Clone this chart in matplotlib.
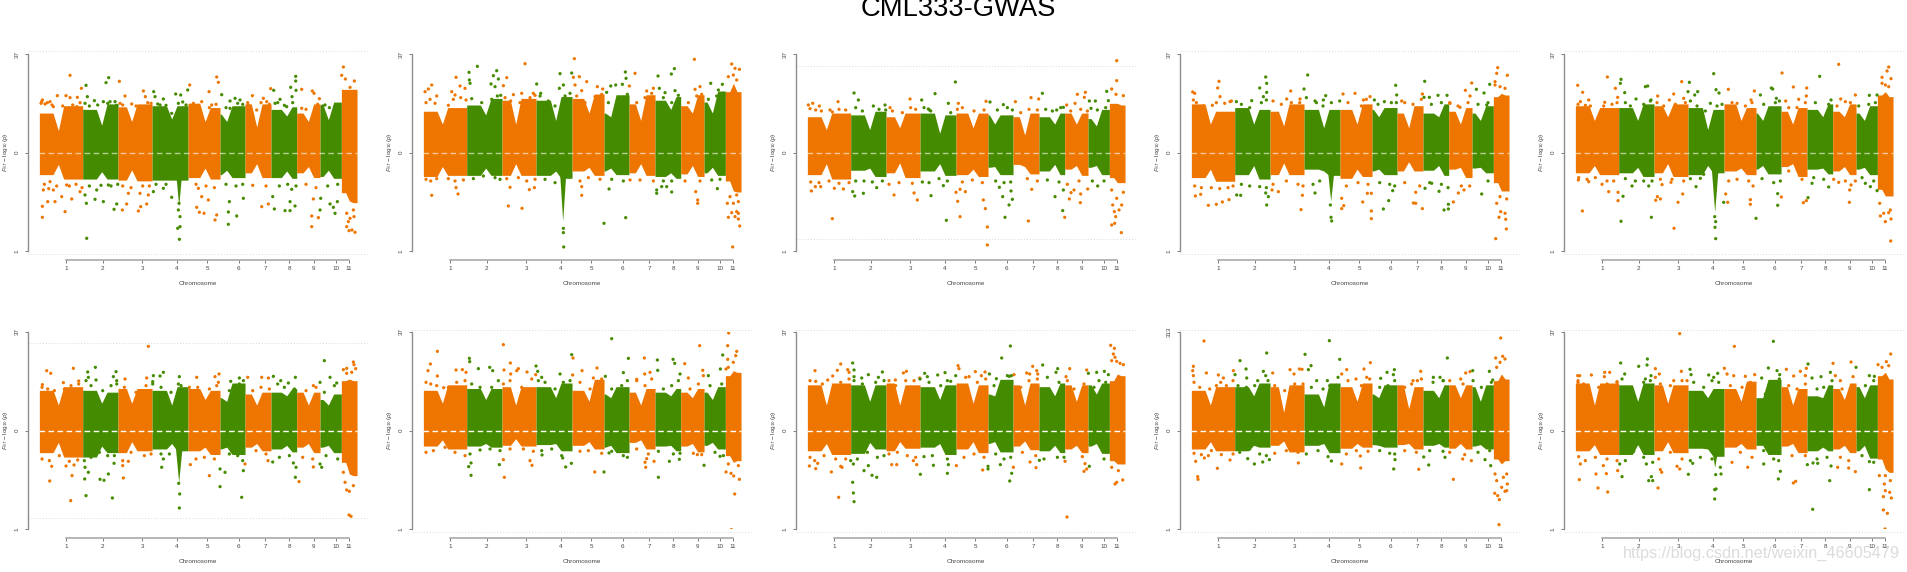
import numpy as np
import matplotlib
matplotlib.use("Agg")
import matplotlib.pyplot as plt

plt.rcParams['font.family'] = ['Liberation Sans', 'DejaVu Sans']
plt.rcParams['mathtext.fontset'] = 'custom'
plt.rcParams['mathtext.rm'] = 'Liberation Sans'
plt.rcParams['mathtext.it'] = 'Liberation Sans:italic'

# genome position of chromosome edges, centromere dips and axis ticks
chrom_edges = [0, 130, 236, 338, 446, 542, 617, 695, 772, 842, 906, 953]
chrom_dips = [57, 187, 277, 397, 497, 562, 652, 742, 807, 867, 930]
chrom_ticks = [80, 190, 309, 412, 504, 598, 677, 750, 823, 890, 928]
chrom_names = ['1', '2', '3', '4', '5', '6', '7', '8', '9', '10', '11']

# top / bottom of the dense band: (start, dip, end) for every chromosome
upper_1 = [108,60,128, 118,75,133, 125,85,133, 128,92,128, 135,85,123, 105,85,128, 133,70,133, 118,100,125, 108,85,133, 130,90,138, 190,190,190]
upper_2 = [113,78,123, 130,103,148, 143,78,148, 143,88,153, 148,108,160, 108,98,158, 133,88,158, 143,118,153, 128,108,158, 138,108,168, 183,208,183]
upper_3 = [98,63,108, 103,63,113, 98,68,108, 108,53,103, 108,68,108, 103,78,103, 98,48,108, 98,78,108, 108,78,108, 93,73,118, 148,148,143]
upper_4 = [133,78,113, 123,78,118, 113,73,133, 118,68,118, 118,78,133, 118,98,123, 108,68,128, 108,98,133, 113,78,123, 108,88,128, 168,178,173]
upper_5 = [128,88,123, 123,88,133, 128,98,133, 123,63,118, 133,88,123, 108,88,128, 113,78,123, 118,98,133, 113,98,133, 108,88,128, 173,183,168]
upper_6 = [110,70,120, 110,75,105, 115,75,115, 110,70,120, 115,85,110, 90,80,130, 100,70,105, 105,95,115, 105,70,105, 85,70,100, 150,155,150]
upper_7 = [110,75,125, 115,85,115, 120,70,120, 120,90,130, 110,80,140, 100,90,120, 105,70,115, 105,95,115, 105,90,115, 105,85,120, 165,180,175]
upper_8 = [125,70,130, 125,80,125, 130,70,125, 120,85,125, 130,75,125, 100,95,140, 125,70,130, 120,95,130, 125,80,125, 125,100,130, 150,170,165]
upper_9 = [110,70,120, 120,95,130, 120,50,125, 100,65,130, 120,80,130, 100,90,125, 125,60,120, 110,90,125, 125,90,125, 120,80,125, 150,170,155]
upper_10 = [130,70,130, 125,80,130, 125,75,125, 110,90,115, 115,80,135, 90,90,140, 120,70,115, 95,90,125, 115,85,130, 120,90,125, 165,175,155]

lower_1 = [-60,-32,-72, -72,-52,-72, -75,-47,-77, -75,-75,-75, -68,-42,-72, -60,-48,-68, -55,-30,-68, -68,-50,-70, -55,-38,-68, -65,-48,-70, -120,-145,-150]
lower_2 = [-65,-38,-62, -62,-42,-62, -62,-30,-62, -62,-50,-70, -50,-40,-62, -50,-42,-60, -55,-30,-62, -65,-55,-70, -58,-35,-65, -55,-40,-62, -85,-115,-118]
lower_3 = [-60,-30,-72, -48,-42,-65, -55,-28,-68, -50,-30,-62, -60,-45,-65, -40,-38,-60, -32,-38,-58, -50,-32,-60, -45,-35,-62, -40,-35,-60, -75,-90,-90]
lower_4 = [-68,-45,-78, -60,-35,-72, -60,-28,-60, -45,-50,-62, -70,-45,-65, -50,-45,-60, -50,-25,-50, -48,-35,-62, -45,-40,-68, -42,-40,-55, -90,-115,-115]
lower_5 = [-55,-35,-60, -55,-40,-65, -55,-30,-65, -60,-35,-55, -50,-42,-60, -45,-35,-58, -38,-30,-65, -45,-42,-58, -50,-38,-60, -45,-40,-60, -110,-130,-130]
lower_6 = [-60,-32,-72, -72,-42,-60, -60,-30,-55, -50,-35,-55, -55,-45,-65, -50,-45,-65, -45,-35,-55, -50,-40,-58, -45,-35,-60, -45,-40,-60, -95,-130,-135]
lower_7 = [-42,-25,-50, -42,-35,-45, -40,-22,-42, -38,-35,-55, -40,-30,-50, -45,-40,-60, -32,-25,-50, -42,-40,-55, -42,-35,-58, -40,-32,-50, -75,-95,-90]
lower_8 = [-55,-35,-65, -62,-32,-50, -55,-30,-48, -45,-35,-65, -50,-30,-60, -35,-30,-58, -42,-28,-52, -55,-40,-60, -50,-40,-60, -42,-35,-62, -90,-100,-100]
lower_9 = [-50,-30,-55, -55,-40,-45, -40,-28,-58, -40,-35,-60, -48,-35,-45, -38,-40,-45, -38,-35,-50, -40,-35,-45, -48,-35,-50, -42,-38,-50, -85,-100,-90]
lower_10 = [-55,-38,-65, -65,-38,-65, -55,-30,-60, -48,-50,-70, -45,-35,-50, -40,-40,-65, -42,-35,-60, -55,-45,-55, -50,-40,-60, -55,-40,-75, -85,-115,-125]

# depth of the peak on chromosome 4, and where the significance line sits
peak_depth = [160, 205, 0, 145, 178, 155, 0, 0, 0, 110]
threshold = [304, None, 260, 304, 304, 262, 303, 303, 303, 303]

# single points that stand clear of the band: (position, value)
hits_1 = [(92,232),(9,158),(54,171),(80,171),(92,165),(114,166),(126,193),(140,202),(144,168),(200,210),(208,225),(240,214),(257,170),(312,185),(318,168),(343,183),(347,168),(372,161),(409,176),(424,173),(445,188),(451,203),(509,183),(532,227),(537,211),(547,174),(572,155),(587,163),(639,171),(672,163),(694,192),(703,187),(722,160),(754,196),(769,229),(769,215),(770,187),(758,168),(787,190),(819,185),(824,178),(840,162),(907,232),(912,257),(918,221),(945,215),(932,196),
    (7,153),(17,146),(32,153),(42,138),(87,133),(112,138),(137,148),(165,156),(192,153),(212,153),(227,153),(242,148),(277,146),(307,133),(362,143),(397,118),(417,148),(462,148),(487,153),(517,143),(572,133),(602,158),(627,143),(652,128),(682,153),(707,148),(742,138),(787,133),(827,133),(857,143),(887,138),
    (9,-161),(9,-194),(25,-147),(12,-112),(47,-147),(42,-112),(77,-177),(67,-132),(97,-139),(122,-117),(32,-87),(82,-97),(142,-257),(141,-152),(167,-140),(192,-147),(224,-170),(232,-154),(172,-112),(207,-97),(137,-127),(249,-172),(262,-154),(297,-175),(304,-162),(322,-154),(267,-122),(302,-122),(327,-127),(372,-107),(342,-117),(397,-134),(472,-164),(480,-179),(494,-182),(487,-132),(477,-107),(507,-142),(532,-187),(527,-202),(567,-178),(567,-215),(592,-190),(570,-147),(612,-137),(667,-162),(687,-154),(705,-169),(700,-132),(737,-174),(752,-174),(767,-160),(752,-147),(757,-110),(817,-190),(817,-222),(837,-195),(842,-172),(844,-137),(822,-139),(872,-154),(887,-182),(882,-164),(894,-147),
    (420,-260),(415,-227),(422,-222),(422,-192),(417,-172),(419,-152),(922,-222),(929,-234),(947,-239),(932,-197),(944,-192),(922,-182),(938,-232),(927,-207),(942,-172)]
hits_2 = [(137,241),(162,259),(138,218),(140,208),(98,226),(25,203),(5,183),(15,191),(40,170),(85,183),(110,200),(125,193),(95,173),(203,206),(210,231),(220,246),(225,221),(215,198),(240,201),(250,225),(305,267),(295,178),(340,206),(330,178),(270,174),(352,178),(410,237),(420,203),(408,193),(445,239),(453,282),(450,226),(468,228),(490,213),(455,203),(475,186),(522,198),(538,191),(550,181),(562,200),(577,203),(597,205),(606,242),(608,223),(618,200),(635,238),(670,185),(690,193),(704,230),(708,193),(725,180),(744,236),(753,252),(755,186),(813,280),(815,190),(830,198),(862,208),(885,188),(897,205),(925,266),(935,253),(948,250),(915,228),(930,233),(940,218),
    (25,-128),(98,-105),(104,-124),(255,-160),(296,-167),(260,-104),(318,-111),(333,-105),(420,-227),(420,-240),(421,-283),(475,-128),(475,-102),(542,-212),(557,-109),(607,-195),(700,-112),(700,-122),(715,-102),(730,-102),(745,-118),(817,-117),(823,-142),(823,-152),(882,-108),(912,-152),(915,-194),(945,-199),(949,-220),(928,-283),(925,-180),(940,-177),(930,-152),(945,-147),(920,-132),(940,-127),(935,-192),(945,-182)]
hits_3 = [(928,276),(928,216),(913,191),(926,175),(948,171),(898,184),(444,212),(383,177),(705,178),(140,179),(153,158),(92,153),(16,148),(3,143),(36,140),(308,161),(343,158),(453,148),(423,148),(536,154),(548,152),(624,153),(588,144),(671,165),(694,161),(810,175),(834,181),(831,166),(803,148),(846,155),(864,155),(903,156),(198,140),(233,143),(248,135),(366,128),(68,128),(363,131),(778,143),(748,128),(768,136),(851,133),
    (75,-198),(12,-115),(24,-102),(40,-102),(81,-107),(108,-109),(136,-117),(142,-130),(168,-122),(208,-105),(260,-127),(320,-121),(330,-142),(371,-129),(408,-99),(417,-203),(446,-119),(451,-146),(458,-192),(458,-110),(474,-117),(528,-142),(534,-168),(540,-223),(540,-277),(576,-104),(586,-132),(593,-194),(605,-157),(611,-115),(615,-140),(663,-205),(673,-110),(743,-132),(766,-174),(772,-194),(768,-112),(786,-139),(791,-120),(800,-112),(819,-150),(820,-124),(841,-109),(871,-100),(913,-217),(922,-212),(942,-240),(935,-172),(921,-177),(943,-157),(916,-157),(925,-192),(948,-119),(928,-137),(913,-112)]
hits_4 = [(83,214),(79,194),(4,182),(10,178),(86,168),(63,142),(116,153),(135,153),(205,194),(223,227),(226,208),(226,181),(216,168),(181,156),(298,185),(338,191),(286,161),(326,161),(349,233),(371,155),(403,171),(396,158),(455,176),(491,178),(536,168),(516,158),(549,158),(613,202),(616,173),(579,153),(631,155),(693,176),(700,214),(698,166),(714,166),(740,172),(767,172),(776,148),(822,187),(841,209),(836,170),(855,190),(878,179),(895,205),(919,255),(916,238),(948,232),(911,213),(926,198),(941,193),(911,203),(806,136),(886,143),
    (12,-130),(28,-125),(51,-158),(75,-155),(93,-148),(113,-141),(136,-127),(148,-128),(223,-121),(226,-157),(231,-132),(242,-112),(261,-117),(329,-171),(333,-128),(371,-121),(419,-194),(421,-205),(417,-157),(451,-137),(451,-168),(457,-159),(514,-148),(528,-122),(540,-175),(540,-198),(540,-122),(576,-169),(592,-144),(604,-114),(666,-151),(673,-152),(673,-119),(693,-168),(701,-107),(721,-92),(743,-116),(758,-172),(771,-155),(771,-169),(786,-148),(801,-121),(818,-112),(871,-124),(913,-258),(923,-194),(928,-177),(941,-182),(943,-200),(945,-229),(916,-152),(946,-139),(926,-132)]
hits_5 = [(7,202),(22,181),(96,227),(120,193),(127,166),(40,158),(15,153),(88,151),(137,220),(135,208),(148,180),(182,161),(210,198),(217,200),(227,158),(247,170),(319,213),(295,176),(282,158),(325,163),(342,211),(338,183),(367,183),(358,173),(415,237),(422,189),(431,179),(405,148),(459,190),(485,148),(537,185),(527,158),(555,173),(588,194),(592,191),(603,163),(620,239),(631,155),(654,197),(670,160),(693,170),(694,194),(733,229),(767,158),(790,265),(796,161),(810,153),(840,173),(882,172),(905,173),(920,226),(935,245),(940,257),(947,222),(920,208),(930,203),(940,198),
    (9,-82),(21,-175),(40,-87),(80,-95),(100,-117),(128,-119),(128,-144),(143,-131),(137,-206),(170,-100),(220,-100),(228,-194),(241,-143),(246,-132),(255,-139),(260,-96),(287,-89),(296,-227),(308,-149),(322,-124),(362,-102),(375,-77),(418,-192),(421,-207),(419,-224),(421,-258),(445,-149),(451,-124),(457,-149),(525,-141),(525,-155),(542,-197),(533,-100),(607,-123),(607,-158),(618,-133),(684,-150),(693,-144),(698,-135),(710,-92),(760,-103),(790,-89),(822,-149),(823,-112),(827,-97),(885,-102),(905,-114),(870,-92),(915,-190),(930,-207),(925,-182),(940,-180),(947,-199),(946,-265),(913,-152),(945,-172)]
hits_6 = [(22,180),(34,172),(102,187),(118,149),(72,144),(9,138),(145,176),(168,190),(147,160),(170,152),(230,177),(222,162),(232,140),(257,155),(327,253),(322,158),(340,147),(342,165),(372,175),(362,164),(420,162),(417,140),(472,160),(539,170),(527,162),(537,145),(574,148),(600,158),(625,160),(667,160),(687,158),(702,163),(724,150),(747,143),(768,160),(855,210),(822,135),(842,145),(872,160),(892,143),(912,183),(922,187),(942,206),(944,198),(949,186),(937,175),(922,172),
    (31,-151),(37,-107),(80,-106),(94,-210),(98,-135),(104,-103),(136,-145),(137,-110),(140,-195),(147,-125),(182,-146),(194,-149),(207,-130),(219,-202),(224,-98),(252,-142),(250,-105),(267,-92),(367,-110),(372,-85),(421,-190),(420,-232),(418,-158),(453,-102),(510,-135),(542,-115),(542,-168),(557,-125),(607,-200),(612,-120),(617,-100),(686,-90),(700,-94),(762,-97),(770,-110),(768,-140),(779,-153),(822,-109),(847,-110),(842,-100),(929,-253),(935,-257),(930,-182),(922,-178),(942,-165),(912,-125),(917,-155),(947,-130)]
hits_7 = [(42,238),(21,200),(14,180),(42,164),(98,182),(117,183),(128,175),(61,129),(138,217),(139,207),(165,186),(199,190),(208,180),(240,258),(242,182),(261,203),(262,170),(285,186),(280,180),(311,176),(338,194),(343,178),(337,168),(355,160),(410,170),(445,228),(449,218),(448,167),(476,180),(521,188),(510,158),(546,163),(565,276),(615,217),(600,174),(640,154),(663,218),(664,170),(680,175),(702,212),(703,181),(749,214),(754,202),(770,170),(784,201),(795,158),(829,255),(838,181),(840,165),(855,165),(891,185),(898,227),(908,185),(916,293),(913,255),(913,214),(940,238),(937,225),(930,205),(915,190),
    (136,-108),(143,-97),(143,-134),(228,-102),(243,-140),(240,-87),(320,-90),(326,-104),(356,-73),(427,-109),(444,-98),(418,-82),(514,-124),(542,-124),(557,-67),(665,-95),(670,-84),(667,-110),(692,-92),(705,-140),(738,-92),(768,-86),(842,-104),(822,-72),(890,-77),(908,-124),(923,-128),(931,-136),(948,-146),(934,-190),(924,-297),(915,-100),(945,-105)]
hits_8 = [(23,180),(76,164),(90,181),(100,200),(121,183),(125,175),(61,152),(136,203),(140,182),(140,162),(163,158),(183,168),(225,176),(213,160),(264,152),(288,173),(297,178),(337,158),(352,172),(360,162),(391,167),(413,174),(420,150),(452,195),(455,186),(485,162),(504,177),(533,176),(546,170),(522,165),(567,156),(583,218),(609,254),(606,163),(620,168),(658,173),(667,170),(676,193),(688,180),(691,170),(706,197),(746,175),(751,186),(787,186),(776,162),(838,182),(843,172),(868,175),(891,178),(875,150),(910,256),(921,247),(918,230),(913,210),(928,208),(948,198),(923,220),(938,202),(903,168),
    (6,-106),(25,-114),(31,-98),(72,-124),(94,-200),(100,-107),(104,-110),(136,-155),(138,-187),(140,-213),(138,-100),(170,-120),(183,-105),(194,-134),(208,-140),(253,-102),(268,-102),(318,-90),(328,-102),(339,-131),(378,-104),(420,-128),(423,-102),(447,-105),(526,-118),(542,-107),(542,-115),(579,-102),(607,-151),(613,-128),(618,-110),(668,-94),(686,-111),(696,-89),(779,-259),(773,-92),(833,-99),(830,-122),(838,-115),(846,-107),(923,-160),(928,-155),(946,-148),(933,-120),(913,-110)]
hits_9 = [(38,269),(6,193),(4,180),(6,165),(45,173),(81,167),(96,158),(126,180),(131,168),(88,145),(146,210),(164,185),(166,158),(226,233),(216,178),(223,165),(244,173),(199,150),(296,183),(308,170),(324,185),(332,184),(341,229),(359,195),(351,183),(376,150),(414,270),(408,150),(445,214),(466,183),(451,170),(494,155),(518,185),(537,204),(526,160),(568,157),(587,175),(609,183),(606,168),(661,140),(688,178),(678,150),(726,160),(746,160),(768,218),(756,150),(823,173),(836,177),(844,180),(808,155),(894,178),(904,152),(928,278),(913,218),(934,223),(941,215),(926,205),(916,190),
    (13,-92),(19,-138),(20,-146),(78,-113),(39,-82),(51,-75),(116,-88),(169,-84),(189,-100),(214,-94),(234,-87),(321,-97),(420,-91),(451,-100),(508,-112),(507,-76),(607,-115),(611,-87),(682,-116),(697,-79),(712,-103),(761,-80),(786,-146),(814,-85),(840,-90),(881,-87),(898,-105),(923,-282),(924,-207),(919,-195),(910,-188),(941,-182),(946,-180),(948,-160),(931,-170),(916,-150),(911,-130),(936,-140),(946,-130)]
hits_10 = [(7,165),(13,165),(48,167),(88,175),(103,175),(87,162),(8,145),(125,147),(136,203),(148,170),(190,193),(216,215),(215,197),(227,165),(210,155),(240,186),(252,170),(240,160),(313,291),(318,178),(295,150),(344,184),(347,168),(400,167),(415,160),(427,172),(447,187),(455,170),(477,253),(475,165),(510,163),(538,168),(594,268),(579,188),(605,180),(613,168),(559,158),(633,184),(655,164),(675,178),(693,187),(698,200),(690,165),(710,158),(737,162),(773,202),(765,175),(780,165),(827,206),(842,190),(795,150),(833,162),(882,165),(897,163),(908,198),(946,230),(933,207),(920,190),(940,195),
    (12,-147),(15,-100),(62,-130),(68,-172),(84,-105),(93,-129),(97,-184),(127,-120),(140,-138),(133,-100),(213,-100),(228,-138),(220,-150),(232,-150),(248,-172),(255,-117),(259,-125),(305,-107),(313,-115),(339,-131),(352,-98),(421,-132),(437,-130),(418,-177),(422,-175),(418,-205),(517,-110),(565,-100),(609,-145),(615,-122),(654,-157),(661,-152),(696,-102),(713,-97),(727,-98),(712,-236),(763,-150),(767,-106),(787,-110),(820,-112),(840,-123),(882,-177),(882,-93),(912,-135),(924,-238),(936,-248),(929,-295),(924,-198),(948,-202),(930,-180),(943,-185),(927,-160),(945,-150),(930,-135)]

# dots along the speckled edge of the band, as far as they can be told apart
edge_1 = [(5,148),(24,150),(38,143),(70,140),(100,143),(122,150),(150,140),(175,143),(205,148),(232,142),(250,143),(290,140),(325,150),(335,148),(355,146),(380,142),(430,152),(440,143),(468,140),(510,135),(530,145),(560,135),(595,148),(610,145),(625,150),(665,150),(690,145),(715,150),(735,142),(760,150),(800,130),(835,145),(850,140),(870,135),(895,140),
    (15,-95),(28,-108),(52,-100),(90,-100),(110,-95),(128,-105),(150,-100),(185,-98),(215,-100),(235,-95),(250,-100),(275,-105),(310,-100),(330,-100),(350,-95),(380,-95),(470,-95),(500,-100),(525,-105),(560,-95),(590,-100),(610,-95),(640,-98),(680,-100),(720,-100),(745,-95),(770,-100),(800,-95),(830,-105),(865,-100),(895,-95)]
edge_2 = [(8,150),(20,160),(35,148),(75,142),(90,160),(112,165),(128,158),(145,162),(175,150),(205,160),(222,170),(232,172),(245,165),(262,155),(290,150),(320,165),(335,172),(350,170),(375,155),(395,140),(425,170),(440,178),(460,170),(485,150),(515,168),(535,175),(555,150),(590,155),(612,175),(640,150),(665,165),(685,178),(720,165),(745,150),(765,172),(795,150),(820,170),(835,175),(855,160),(880,170),(900,178),
    (8,-80),(22,-85),(40,-78),(75,-78),(95,-85),(120,-82),(150,-78),(180,-70),(215,-75),(230,-80),(250,-78),(285,-75),(310,-85),(335,-80),(365,-80),(395,-90),(470,-85),(495,-75),(530,-80),(565,-80),(600,-85),(620,-82),(650,-82),(690,-85),(720,-85),(745,-85),(785,-85),(830,-85),(865,-82),(890,-80)]
edge_3 = [(8,132),(25,128),(42,125),(75,122),(95,130),(115,128),(145,135),(165,125),(215,130),(235,128),(255,125),(285,120),(310,135),(325,130),(350,135),(370,125),(430,120),(450,130),(465,135),(500,125),(530,128),(570,128),(600,135),(615,128),(640,120),(665,130),(690,128),(715,130),(735,125),(760,135),(790,125),(820,130),(840,125),(870,128),(895,135),
    (10,-88),(35,-90),(65,-85),(95,-92),(125,-90),(145,-85),(170,-85),(195,-88),(225,-85),(245,-95),(275,-90),(315,-92),(345,-88),(365,-90),(395,-78),(420,-85),(465,-88),(495,-82),(525,-90),(565,-85),(590,-90),(610,-88),(660,-78),(690,-85),(720,-82),(755,-88),(780,-95),(815,-85),(855,-85),(890,-85)]
edge_4 = [(6,158),(15,150),(35,140),(75,150),(100,148),(120,155),(150,145),(175,135),(210,150),(225,158),(245,155),(270,145),(300,150),(325,150),(345,165),(375,150),(395,140),(420,150),(445,155),(470,150),(510,140),(525,160),(560,145),(600,150),(615,150),(640,150),(665,145),(690,160),(720,145),(750,150),(775,150),(800,140),(830,150),(860,145),(890,150),
    (10,-100),(30,-105),(60,-105),(85,-108),(110,-105),(125,-100),(150,-95),(175,-100),(205,-102),(225,-105),(245,-95),(285,-85),(320,-95),(335,-100),(365,-95),(385,-85),(465,-100),(500,-90),(530,-95),(565,-90),(595,-95),(610,-100),(640,-90),(685,-100),(715,-90),(750,-95),(770,-105),(810,-100),(835,-100),(890,-85)]
edge_5 = [(8,145),(30,142),(45,140),(85,140),(110,145),(125,150),(150,150),(165,140),(205,145),(225,155),(245,150),(265,140),(300,145),(330,150),(345,155),(365,140),(390,125),(425,140),(440,145),(470,150),(510,140),(530,150),(565,145),(600,150),(612,155),(640,135),(665,135),(690,150),(720,150),(760,145),(785,140),(825,150),(850,140),(880,145),(900,150),
    (10,-75),(35,-80),(60,-75),(95,-85),(115,-85),(150,-78),(180,-85),(205,-85),(230,-85),(255,-80),(290,-80),(325,-85),(345,-78),(385,-65),(460,-85),(485,-80),(520,-85),(560,-78),(595,-90),(615,-85),(640,-55),(680,-80),(715,-75),(745,-80),(775,-80),(810,-85),(840,-85),(860,-75),(895,-85)]
edge_6 = [(8,130),(25,125),(45,120),(75,125),(95,135),(118,140),(140,150),(155,135),(190,120),(215,135),(232,150),(255,130),(290,115),(320,135),(340,140),(365,130),(395,115),(425,135),(450,130),(475,130),(510,125),(532,135),(570,120),(600,140),(612,150),(640,120),(665,130),(690,125),(715,140),(735,130),(765,125),(800,120),(830,130),(855,115),(885,135),
    (8,-85),(30,-90),(60,-75),(90,-92),(115,-88),(135,-90),(155,-80),(180,-65),(205,-75),(225,-75),(250,-90),(275,-65),(315,-75),(335,-70),(365,-70),(390,-70),(470,-85),(495,-80),(525,-85),(570,-70),(595,-75),(610,-90),(650,-60),(680,-70),(720,-80),(750,-75),(790,-80),(820,-85),(860,-75),(895,-85)]
edge_7 = [(8,145),(22,140),(40,135),(75,130),(100,145),(125,150),(145,140),(170,130),(205,130),(225,150),(240,140),(260,150),(295,130),(325,155),(345,150),(365,145),(395,125),(420,145),(440,150),(470,145),(500,125),(535,155),(565,125),(595,135),(612,150),(640,150),(665,135),(685,155),(720,125),(745,135),(765,150),(800,125),(825,140),(860,135),(895,140),
    (8,-65),(30,-60),(65,-50),(95,-65),(125,-75),(140,-70),(170,-58),(200,-55),(230,-60),(260,-55),(300,-55),(330,-62),(355,-60),(385,-55),(415,-75),(470,-62),(495,-60),(535,-68),(565,-62),(600,-75),(612,-80),(640,-55),(675,-70),(705,-62),(750,-70),(770,-68),(810,-68),(835,-72),(875,-65),(900,-75)]
edge_8 = [(8,150),(25,148),(45,140),(80,135),(100,145),(125,155),(140,150),(165,140),(205,145),(230,150),(245,150),(265,135),(295,150),(320,150),(338,155),(365,145),(400,135),(430,148),(445,165),(475,160),(510,145),(535,155),(560,135),(600,165),(612,165),(640,130),(665,150),(690,155),(720,160),(755,145),(780,150),(800,125),(830,140),(860,130),(895,145),
    (8,-80),(22,-90),(50,-75),(85,-85),(115,-85),(130,-90),(150,-85),(180,-65),(210,-80),(230,-75),(245,-70),(270,-65),(300,-75),(325,-80),(350,-78),(375,-75),(420,-85),(470,-80),(500,-70),(530,-80),(565,-70),(590,-85),(610,-80),(645,-65),(685,-75),(710,-85),(750,-80),(770,-80),(825,-78),(890,-85)]
edge_9 = [(8,145),(25,130),(55,125),(75,135),(105,135),(125,150),(140,135),(165,130),(190,135),(215,135),(230,150),(250,135),(280,120),(310,140),(335,140),(360,130),(395,125),(415,135),(440,160),(470,150),(510,135),(535,155),(565,130),(590,135),(610,150),(640,130),(665,150),(690,155),(725,145),(755,150),(775,150),(815,140),(845,150),(870,130),(900,145),
    (8,-68),(30,-72),(60,-60),(90,-72),(125,-70),(145,-65),(175,-55),(205,-70),(225,-75),(250,-68),(285,-60),(320,-65),(345,-70),(380,-60),(410,-78),(465,-70),(495,-60),(530,-62),(565,-60),(595,-68),(610,-70),(640,-60),(675,-65),(715,-60),(755,-62),(775,-65),(820,-72),(860,-65),(895,-60)]
edge_10 = [(8,150),(25,140),(40,125),(70,130),(95,140),(125,145),(140,155),(170,125),(205,145),(225,150),(255,140),(285,135),(320,150),(335,150),(355,145),(385,130),(410,150),(430,145),(465,135),(500,130),(525,145),(570,110),(598,145),(612,155),(640,135),(665,125),(690,140),(725,125),(745,130),(770,150),(800,125),(830,130),(870,135),(895,150),
    (10,-78),(30,-90),(60,-80),(95,-85),(125,-90),(150,-90),(175,-62),(205,-80),(232,-95),(250,-85),(285,-65),(320,-85),(345,-90),(375,-80),(410,-85),(435,-110),(470,-95),(495,-65),(530,-80),(565,-60),(595,-85),(610,-90),(650,-75),(690,-75),(725,-85),(755,-80),(795,-80),(820,-90),(860,-75),(895,-95)]

uppers = [upper_1, upper_2, upper_3, upper_4, upper_5, upper_6, upper_7, upper_8, upper_9, upper_10]
lowers = [lower_1, lower_2, lower_3, lower_4, lower_5, lower_6, lower_7, lower_8, lower_9, lower_10]
hits = [hits_1, hits_2, hits_3, hits_4, hits_5, hits_6, hits_7, hits_8, hits_9, hits_10]
edges = [edge_1, edge_2, edge_3, edge_4, edge_5, edge_6, edge_7, edge_8, edge_9, edge_10]

ORANGE = '#EE7600'
GREEN = '#458B00'
GREY = '#8c8c8c'
W, H = 1907, 572
# the band values were read inside the speckled edge, so chromosomes 1-10 get lifted a bit
EDGE_LIFT = 1.1

fig = plt.figure(figsize=(W / 100, H / 100), dpi=100)
fig.text(958 / W, 1 - 9 / H, 'CML333-GWAS', ha='center', va='center', fontsize=19.7)


def band(vals, c):
    # flat arms with a narrow notch at the centromere
    s, d, e = vals[3 * c:3 * c + 3]
    lift = 1.0 if c == 10 else EDGE_LIFT
    return [s * lift, s * lift, d * lift, e * lift, e * lift]


def draw_panel(ax, i):
    up = uppers[i]
    low = lowers[i]
    for c in range(11):
        col = ORANGE if c % 2 == 0 else GREEN
        a, b, dip = chrom_edges[c], chrom_edges[c + 1], chrom_dips[c]
        w = 11 if c == 10 else 16
        xs = [a, max(a, dip - w), dip, min(b, dip + w), b]
        ax.fill_between(xs, band(low, c), band(up, c), color=col, lw=0, zorder=2)

    # chromosome 4 peak
    if peak_depth[i] > 0:
        ax.fill_between([408, 418, 428], [-50, -peak_depth[i], -50], 0, color=GREEN, lw=0, zorder=2)

    pts = np.array(hits[i] + edges[i], dtype=float)
    chrom = np.searchsorted(chrom_edges, pts[:, 0], side='right') - 1
    cols = [ORANGE if c % 2 == 0 else GREEN for c in chrom]
    ax.scatter(pts[:, 0], pts[:, 1], s=5.5, c=cols, linewidths=0, zorder=3)

    # dashed middle line is paler in the top row
    ax.plot([0, 953], [0, 0], color='white', lw=1.0, ls=(0, (4, 2.5)),
            alpha=0.6 if i < 5 else 1.0, zorder=4)

    if threshold[i] is not None:
        for sign in (1, -1):
            ax.plot([-35, 985], [sign * threshold[i]] * 2, color='#d8d8d8', lw=0.7,
                    ls=(0, (1, 2)), clip_on=False, zorder=1)

    ax.set_xlim(-35, 985)
    ax.set_ylim(-296, 296)
    for s in ('top', 'right'):
        ax.spines[s].set_visible(False)
    ax.spines['left'].set_color(GREY)
    ax.spines['left'].set_linewidth(1.0)
    ax.spines['bottom'].set_color('#aaaaaa')
    ax.spines['bottom'].set_linewidth(1.2)
    ax.spines['bottom'].set_position(('outward', 6.2))
    ax.spines['bottom'].set_bounds(chrom_ticks[0], chrom_ticks[-1])

    ax.set_xticks(chrom_ticks)
    ax.set_xticklabels(chrom_names)
    ax.set_yticks([-296, 0, 296])
    ax.set_yticklabels(['1', '0', '37' if i != 8 else '313'], rotation=90, va='center')
    ax.tick_params(axis='both', labelsize=4.5, length=2.2, width=0.6, color='#666666',
                   labelcolor='#444444', pad=2.5)
    ax.tick_params(axis='y', pad=3.5)

    ax.text(-35, 1.035, str(i + 1), transform=ax.get_yaxis_transform(), fontsize=5.5,
            fontweight='bold', ha='left', va='bottom', color='#222222')
    ax.text(0.5 - 1 / 1020, -0.165, 'Chromosome', transform=ax.transAxes, fontsize=4.6,
            ha='center', va='center', color='#444444')
    ax.text(-22.5 / 340, 0.5, r'$F_{ST}-\log_{10}(p)$', transform=ax.transAxes, fontsize=4.6,
            rotation=90, ha='center', va='center', color='#444444')


for i in range(10):
    row = i // 5
    col = i % 5
    left = 27.7 + 384 * col
    top = 54 if row == 0 else 332
    ax = fig.add_axes([left / W, 1 - (top + 197.3) / H, 340 / W, 197.3 / H])
    draw_panel(ax, i)

fig.text(1761 / W, 1 - 553 / H, 'https://blog.csdn.net/weixin_46605479', ha='center', va='center',
         fontsize=11.7, color='#cccccc', alpha=0.7)

fig.savefig('out.png', dpi=100)
